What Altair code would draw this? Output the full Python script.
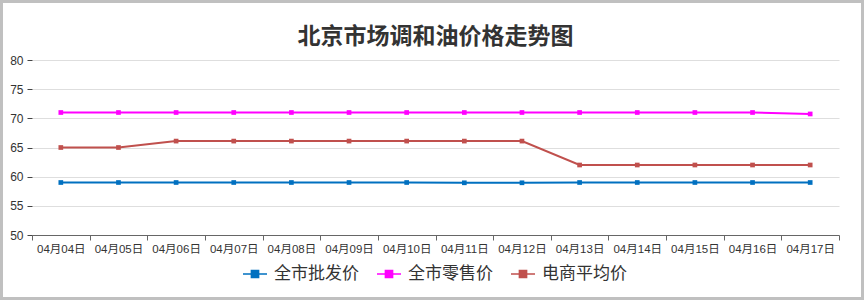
import altair as alt
import pandas as pd

dates = ["04月04日", "04月05日", "04月06日", "04月07日", "04月08日", "04月09日", "04月10日",
         "04月11日", "04月12日", "04月13日", "04月14日", "04月15日", "04月16日", "04月17日"]
series_names = ["全市批发价", "全市零售价", "电商平均价"]
wholesale = [59.0, 59.0, 59.0, 59.0, 59.0, 59.0, 59.0, 58.95, 58.95, 59.0, 59.0, 59.0, 59.0, 59.0]
retail = [71.0, 71.0, 71.0, 71.0, 71.0, 71.0, 71.0, 71.0, 71.0, 71.0, 71.0, 71.0, 71.0, 70.75]
ecommerce = [65.0, 65.0, 66.1, 66.1, 66.1, 66.1, 66.1, 66.1, 66.1, 62.0, 62.0, 62.0, 62.0, 62.0]
colors = ["#0070c0", "#ff00ff", "#c0504d"]
y_ticks = [50, 55, 60, 65, 70, 75, 80]

rows = []
for name, vals in zip(series_names, [wholesale, retail, ecommerce]):
    for d, v in zip(dates, vals):
        rows.append({"date": d, "series": name, "price": v})
df = pd.DataFrame(rows)

font = "Noto Sans CJK SC"
lab_font = "Liberation Sans, Noto Sans CJK SC"
W, H = 807, 175

x_enc = alt.X("date:N", sort=dates, title=None,
              scale=alt.Scale(type="band", paddingInner=0, paddingOuter=0),
              axis=alt.Axis(labelAngle=0, labelFontSize=11.5, labelColor="#333", labelFont=lab_font,
                            domainColor="#666", tickColor="#666", tickSize=5, tickBand="extent",
                            grid=False, labelPadding=3))
y_enc = alt.Y("price:Q", title=None,
              scale=alt.Scale(domain=[50, 80], nice=False, zero=False),
              axis=alt.Axis(values=y_ticks, labelFontSize=12, labelColor="#333", labelFont=lab_font,
                            domain=False, tickColor="#444", tickSize=5, gridColor="#dedede",
                            gridWidth=1.2, labelPadding=4))
color_enc = alt.Color("series:N", sort=series_names, title=None,
                      scale=alt.Scale(domain=series_names, range=colors),
                      legend=alt.Legend(orient="none", legendX=210, legendY=201,
                                        direction="horizontal",
                                        labelFontSize=17, labelColor="#333", labelFont=font,
                                        symbolType="M-1,0L1,0M-0.3,-0.3L0.3,-0.3L0.3,0.3L-0.3,0.3Z",
                                        symbolSize=576, symbolStrokeWidth=1.5,
                                        columnPadding=15, labelOffset=6))

base = alt.Chart(df)
lines = base.mark_line(strokeWidth=2).encode(x=x_enc, y=y_enc, color=color_enc)
points = base.mark_point(shape="square", filled=True, size=22, opacity=1).encode(
    x=x_enc, y=y_enc, color=color_enc)

frame = alt.Chart(pd.DataFrame({"a": [0]})).mark_rect(
    fill=None, stroke="#c0c0c0", strokeWidth=3).encode(
    x=alt.value(-30.5), x2=alt.value(W + 23.5), y=alt.value(-58.5), y2=alt.value(H + 63.5))

chart = alt.layer(lines, points, frame).properties(
    width=W, height=H,
    padding={"left": 32, "top": 60, "right": 25, "bottom": 65},
    autosize=alt.AutoSizeParams(type="none"),
    title=alt.TitleParams("北京市场调和油价格走势图", fontSize=23, fontWeight="bold",
                          font=font, color="#333", anchor="middle", offset=-49),
    background="white",
).configure_view(stroke=None)

chart.save("out.html", embed_options={"renderer": "svg", "actions": False})
